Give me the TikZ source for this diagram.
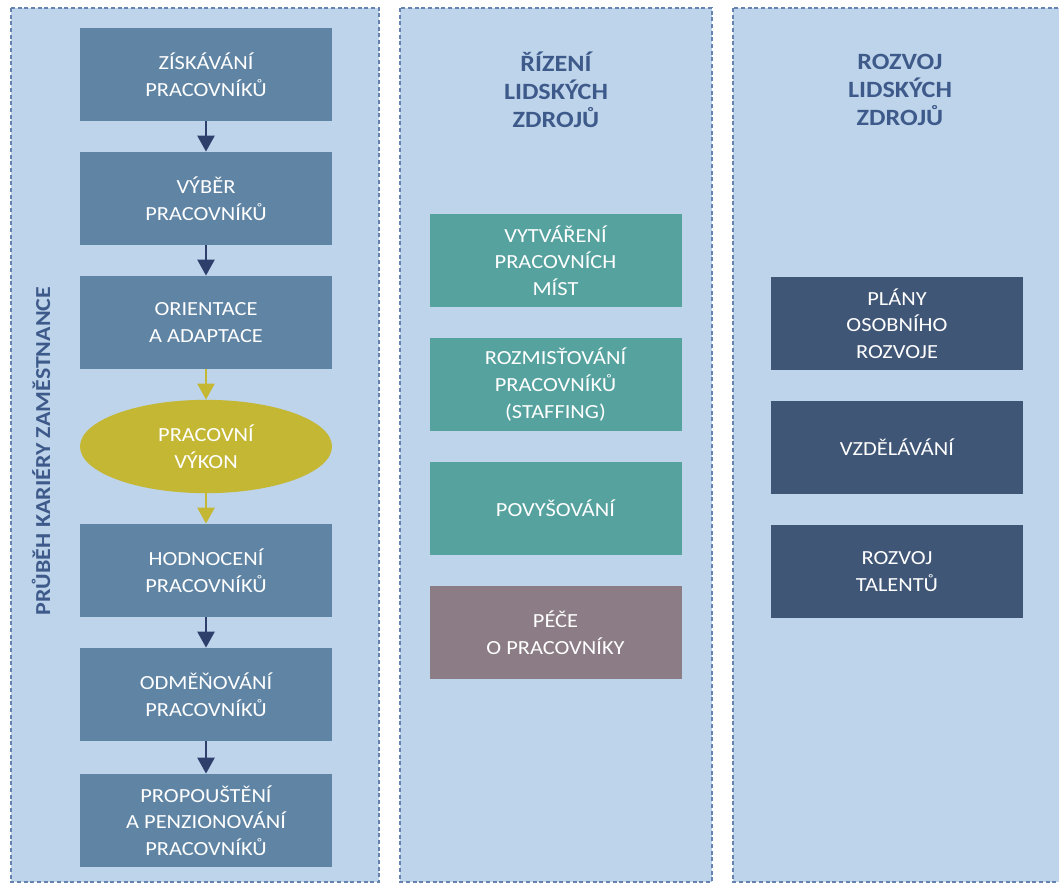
\documentclass[tikz,border=0pt]{standalone}
\usepackage{fontspec}
\setmainfont{Carlito}[FakeStretch=1.12]
\usepackage{tikz}
\usetikzlibrary{shapes.geometric, arrows.meta}
\definecolor{colfill}{HTML}{BED4EB}
\definecolor{coldash}{HTML}{6683B0}
\definecolor{steel}{HTML}{5F84A4}
\definecolor{olive}{HTML}{C4B733}
\definecolor{teal}{HTML}{56A29F}
\definecolor{mauve}{HTML}{8B7C85}
\definecolor{navy}{HTML}{405676}
\definecolor{titleblue}{HTML}{3E5A8A}
\definecolor{arrownavy}{HTML}{2E3F6C}
\tikzstyle{column} = [fill=colfill, draw=coldash, line width=1.3pt, dash pattern=on 3pt off 2pt]
\tikzstyle{coltitle} = [align=center, text=titleblue, font=\fontsize{17.5}{21}\selectfont\bfseries]
\tikzstyle{stepbox} = [rectangle, minimum width=189pt, minimum height=70pt, inner sep=0pt, align=center, text=white, font=\fontsize{15}{20}\selectfont, fill=steel]
\tikzstyle{perf} = [ellipse, minimum width=189pt, minimum height=70pt, inner sep=0pt, align=center, text=white, font=\fontsize{15}{20}\selectfont, fill=olive]
\tikzstyle{hrbox} = [stepbox, fill=teal]
\tikzstyle{carebox} = [stepbox, fill=mauve]
\tikzstyle{devbox} = [stepbox, fill=navy]
\tikzstyle{arrow} = [line width=1.2pt, draw=arrownavy, -{Triangle[width=13pt,length=12pt]}]
\tikzstyle{yarrow} = [arrow, draw=olive]

\begin{document}
\begin{tikzpicture}[x=0.75pt, y=-0.75pt, node distance=93pt]

  \useasboundingbox (0,0) rectangle (1059,885);
  \draw [column] (11,8) rectangle (379,882);
  \draw [column] (400,8) rectangle (712,882);
  \draw [column] (733,8) rectangle (1075,882);

  \node (career) [rotate=90, text=titleblue, font=\fontsize{16}{20}\selectfont\bfseries] at (41,451) {PRŮBĚH KARIÉRY ZAMĚSTNANCE};
  \node (hrm) [coltitle] at (556,90) {ŘÍZENÍ\\LIDSKÝCH\\ZDROJŮ};
  \node (hrd) [coltitle] at (900,90) {ROZVOJ\\LIDSKÝCH\\ZDROJŮ};

  \node (recruit) [stepbox] at (206,74.5) {ZÍSKÁVÁNÍ\\PRACOVNÍKŮ};
  \node (select) [stepbox, below of=recruit] {VÝBĚR\\PRACOVNÍKŮ};
  \node (orient) [stepbox, below of=select] {ORIENTACE\\A ADAPTACE};
  \node (perform) [perf, below of=orient] {PRACOVNÍ\\VÝKON};
  \node (appraise) [stepbox, below of=perform] {HODNOCENÍ\\PRACOVNÍKŮ};
  \node (reward) [stepbox, below of=appraise] {ODMĚŇOVÁNÍ\\PRACOVNÍKŮ};
  \node (release) [stepbox, below of=reward, yshift=-1.5pt] {PROPOUŠTĚNÍ\\A PENZIONOVÁNÍ\\PRACOVNÍKŮ};

  \node (jobs) [hrbox] at (555.5,260.5) {VYTVÁŘENÍ\\PRACOVNÍCH\\MÍST};
  \node (staffing) [hrbox, below of=jobs] {ROZMISŤOVÁNÍ\\PRACOVNÍKŮ\\(STAFFING)};
  \node (promote) [hrbox, below of=staffing] {POVYŠOVÁNÍ};
  \node (care) [carebox, below of=promote] {PÉČE\\O PRACOVNÍKY};

  \node (plans) [devbox] at (897,323.5) {PLÁNY\\OSOBNÍHO\\ROZVOJE};
  \node (training) [devbox, below of=plans] {VZDĚLÁVÁNÍ};
  \node (talent) [devbox, below of=training] {ROZVOJ\\TALENTŮ};

  \draw [arrow] (recruit) -- (select);
  \draw [arrow] (select) -- (orient);
  \draw [yarrow] (orient) -- (perform);
  \draw [yarrow] (perform) -- (appraise);
  \draw [arrow] (appraise) -- (reward);
  \draw [arrow] (reward) -- (release);

\end{tikzpicture}
\end{document}
